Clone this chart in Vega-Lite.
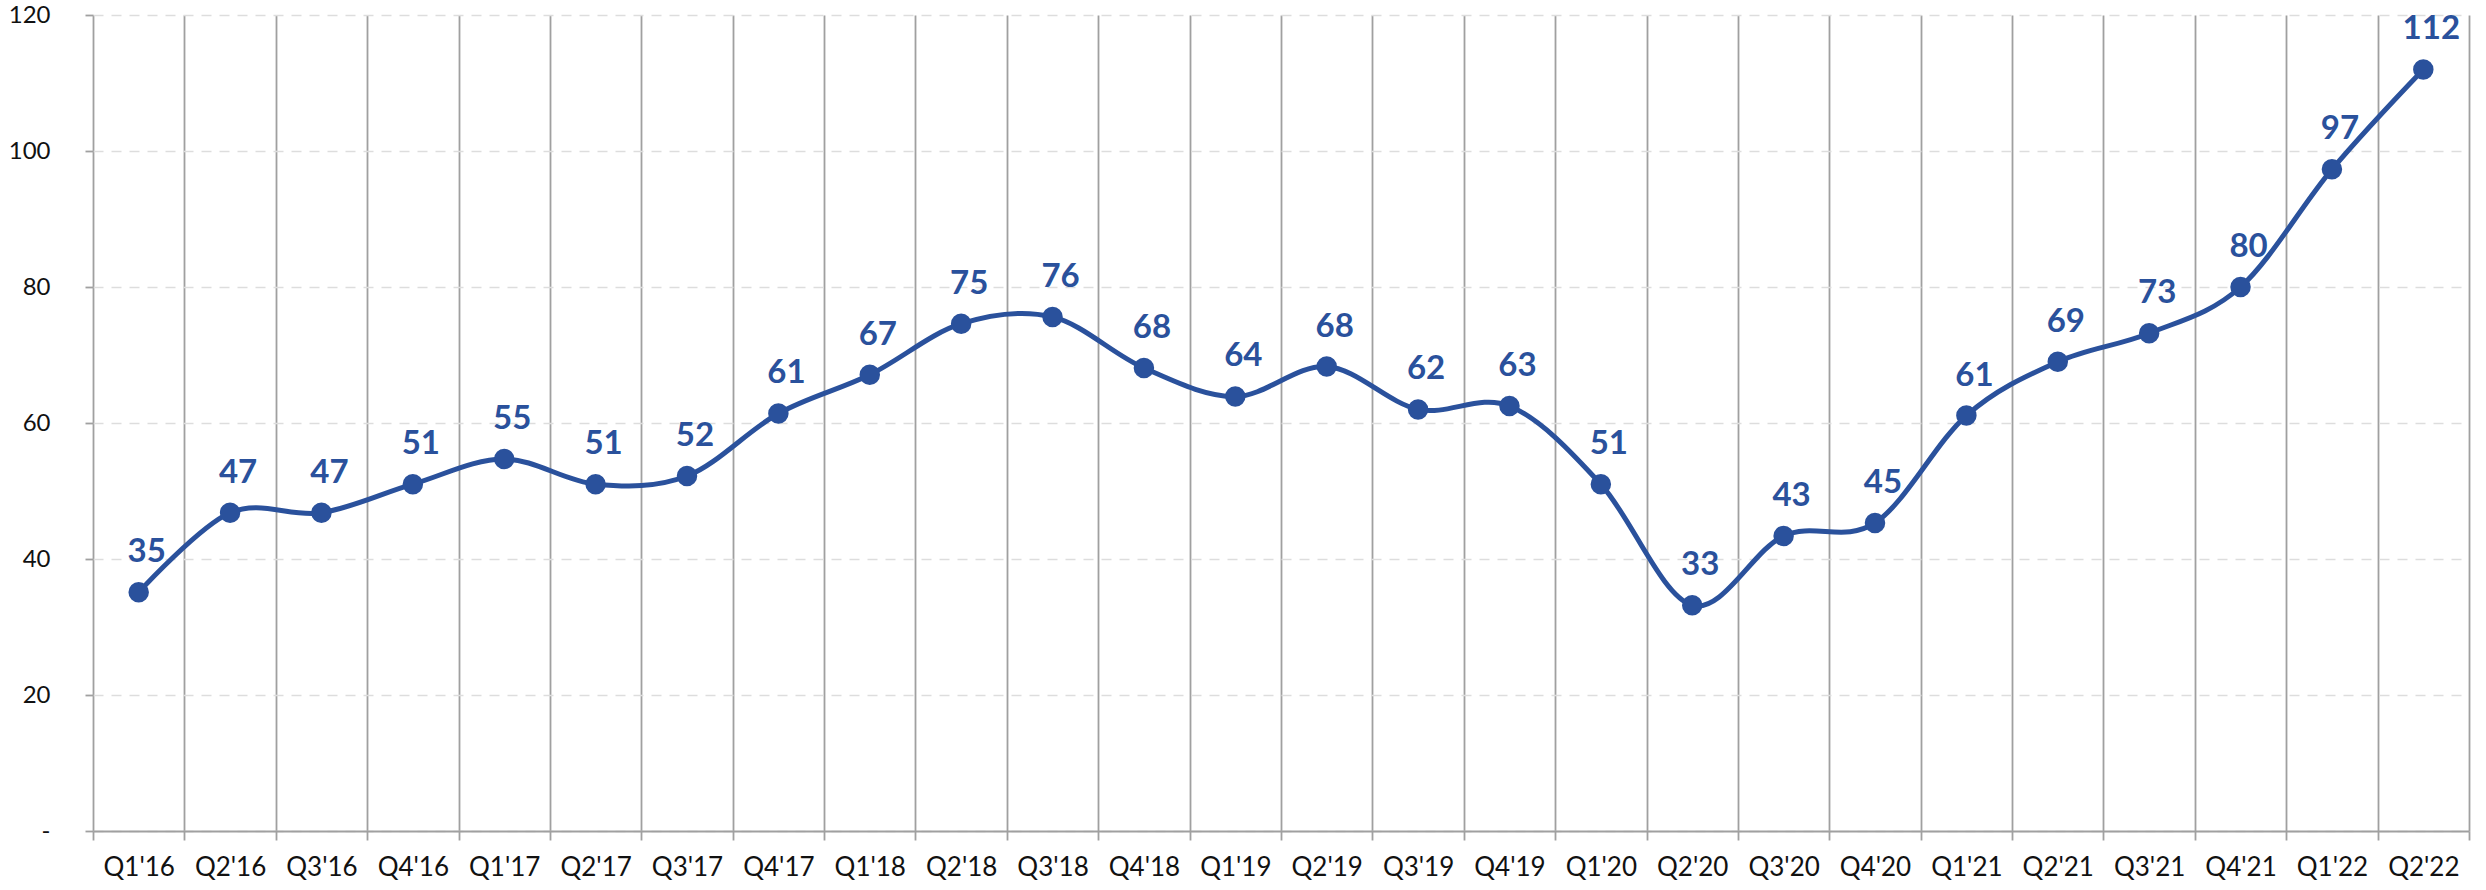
{
  "$schema": "https://vega.github.io/schema/vega-lite/v6.json",
  "width": 2376,
  "height": 816,
  "autosize": "none",
  "padding": {"left": 93, "top": 15, "right": 17, "bottom": 59},
  "background": "white",
  "config": {"view": {"stroke": null}, "font": "Lato"},
  "data": {"values": [
    {"q": "Q1'16", "v": 35.1}, {"q": "Q2'16", "v": 46.8}, {"q": "Q3'16", "v": 46.8},
    {"q": "Q4'16", "v": 51.0}, {"q": "Q1'17", "v": 54.7}, {"q": "Q2'17", "v": 51.0},
    {"q": "Q3'17", "v": 52.2}, {"q": "Q4'17", "v": 61.4}, {"q": "Q1'18", "v": 67.1},
    {"q": "Q2'18", "v": 74.6}, {"q": "Q3'18", "v": 75.6}, {"q": "Q4'18", "v": 68.1},
    {"q": "Q1'19", "v": 63.9}, {"q": "Q2'19", "v": 68.3}, {"q": "Q3'19", "v": 62.0},
    {"q": "Q4'19", "v": 62.5}, {"q": "Q1'20", "v": 51.0}, {"q": "Q2'20", "v": 33.2},
    {"q": "Q3'20", "v": 43.4}, {"q": "Q4'20", "v": 45.3}, {"q": "Q1'21", "v": 61.1},
    {"q": "Q2'21", "v": 69.0}, {"q": "Q3'21", "v": 73.2}, {"q": "Q4'21", "v": 80.0},
    {"q": "Q1'22", "v": 97.3}, {"q": "Q2'22", "v": 112.0}
  ]},
  "encoding": {
    "x": {
      "field": "q", "type": "ordinal", "sort": null,
      "scale": {"type": "band", "paddingInner": 0, "paddingOuter": 0},
      "axis": {
        "title": null, "labelAngle": 0, "tickBand": "extent",
        "grid": true, "gridColor": "#A0A0A0", "gridWidth": 1.8,
        "domainColor": "#A0A0A0", "domainWidth": 2,
        "tickColor": "#A0A0A0", "tickWidth": 1.8, "tickSize": 9,
        "labelFont": "Lato", "labelFontSize": 26, "labelColor": "#111111",
        "labelPadding": 14
      }
    },
    "y": {
      "field": "v", "type": "quantitative",
      "scale": {"domain": [0, 120], "nice": false},
      "axis": {
        "title": null, "values": [0, 20, 40, 60, 80, 100, 120],
        "domain": false,
        "grid": true, "gridColor": "#DDDDDD", "gridWidth": 1.5, "gridDash": [10, 8],
        "tickColor": "#A0A0A0", "tickWidth": 1.8, "tickSize": 8,
        "labelFont": "Lato", "labelFontSize": 24, "labelColor": "#111111",
        "labelPadding": 35,
        "labelExpr": "datum.value == 0 ? '-' : datum.label"
      }
    }
  },
  "layer": [
    {"mark": {"type": "line", "interpolate": "cardinal", "color": "#2A519C", "strokeWidth": 5}},
    {"mark": {"type": "point", "filled": true, "opacity": 1, "color": "#2A519C", "size": 420}},
    {
      "mark": {"type": "text", "color": "#2A519C", "font": "Lato", "fontWeight": "bold", "fontSize": 33, "baseline": "alphabetic", "dy": -30, "dx": 8},
      "encoding": {"text": {"field": "v", "type": "quantitative", "format": ".0f"}}
    }
  ]
}
